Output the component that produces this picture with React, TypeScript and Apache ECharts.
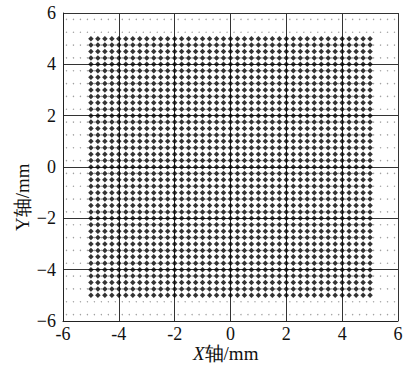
import React, { useEffect, useRef } from "react";
import * as echarts from "echarts";

// measured grid positions (mm)
const gridPos = [
  -5, -4.75, -4.5, -4.25, -4, -3.75, -3.5, -3.25, -3, -2.75, -2.5, -2.25, -2, -1.75, -1.5, -1.25,
  -1, -0.75, -0.5, -0.25, 0, 0.25, 0.5, 0.75, 1, 1.25, 1.5, 1.75, 2, 2.25, 2.5, 2.75, 3, 3.25,
  3.5, 3.75, 4, 4.25, 4.5, 4.75, 5,
];
// background reference dots (mm)
const dotXs = [
  -5.875, -5.625, -5.375, -5.125, -4.875, -4.625, -4.375, -4.125, -3.875, -3.625, -3.375, -3.125,
  -2.875, -2.625, -2.375, -2.125, -1.875, -1.625, -1.375, -1.125, -0.875, -0.625, -0.375, -0.125,
  0.125, 0.375, 0.625, 0.875, 1.125, 1.375, 1.625, 1.875, 2.125, 2.375, 2.625, 2.875, 3.125, 3.375,
  3.625, 3.875, 4.125, 4.375, 4.625, 4.875, 5.125, 5.375, 5.625, 5.875,
];
const dotYs = [
  -5.75, -5.25, -4.75, -4.25, -3.75, -3.25, -2.75, -2.25, -1.75, -1.25, -0.75, -0.25, 0.25, 0.75,
  1.25, 1.75, 2.25, 2.75, 3.25, 3.75, 4.25, 4.75, 5.25, 5.75,
];
const axisTicks = [-6, -4, -2, 0, 2, 4, 6];

const FONT = "Liberation Serif";

export default function App() {
  const ref = useRef<HTMLDivElement>(null);
  useEffect(() => {
    if (!ref.current) return;
    const chart = echarts.init(ref.current, null, { renderer: "svg" });
    const pts: number[][] = [];
    for (const y of gridPos) for (const x of gridPos) pts.push([x, y]);
    const dots: number[][] = [];
    for (const y of dotYs) for (const x of dotXs) dots.push([x, y]);
    chart.setOption({
      animation: false,
      backgroundColor: "#fff",
      textStyle: { fontFamily: FONT },
      grid: { left: 63, right: 8, top: 13, bottom: 45, containLabel: false },
      xAxis: {
        type: "value",
        min: axisTicks[0],
        max: axisTicks[axisTicks.length - 1],
        interval: 2,
        axisLine: { show: true, onZero: false, lineStyle: { color: "#222", width: 1 } },
        axisTick: { show: false },
        splitLine: { show: true, lineStyle: { color: "#333", width: 1 } },
        axisLabel: {
          color: "#111",
          fontFamily: FONT,
          fontSize: 18,
          margin: 4,
          formatter: (v: number) => String(v),
        },
      },
      yAxis: {
        type: "value",
        min: axisTicks[0],
        max: axisTicks[axisTicks.length - 1],
        interval: 2,
        axisLine: { show: true, onZero: false, lineStyle: { color: "#222", width: 1 } },
        axisTick: { show: false },
        splitLine: { show: true, lineStyle: { color: "#333", width: 1 } },
        axisLabel: {
          color: "#111",
          fontFamily: FONT,
          fontSize: 18,
          margin: 7,
          formatter: (v: number) => (v < 0 ? "\u2212" + Math.abs(v) : String(v)),
        },
      },
      series: [
        {
          type: "scatter",
          data: dots,
          symbol: "circle",
          symbolSize: 1.4,
          itemStyle: { color: "#8a8a8a" },
          silent: true,
          z: 1,
        },
        {
          type: "scatter",
          data: pts,
          symbol: "diamond",
          symbolSize: 5.5,
          itemStyle: { color: "#000" },
          silent: true,
          z: 2,
        },
      ],
      graphic: [
        {
          type: "text",
          left: 193,
          top: 344,
          style: {
            text: "{i|X}轴/mm",
            fill: "#111",
            fontFamily: FONT,
            fontSize: 19,
            rich: {
              i: { fontStyle: "italic", fontFamily: FONT, fontSize: 19, fill: "#111" },
            },
          },
        },
        {
          type: "text",
          x: 13,
          y: 231,
          rotation: Math.PI / 2,
          style: {
            text: "Y轴/mm",
            fill: "#111",
            fontFamily: FONT,
            fontSize: 19,
          },
        },
      ],
    });
    return () => chart.dispose();
  }, []);
  return (
    <div
      ref={ref}
      style={{ position: "fixed", left: 0, top: 0, width: 406, height: 366 }}
    />
  );
}
